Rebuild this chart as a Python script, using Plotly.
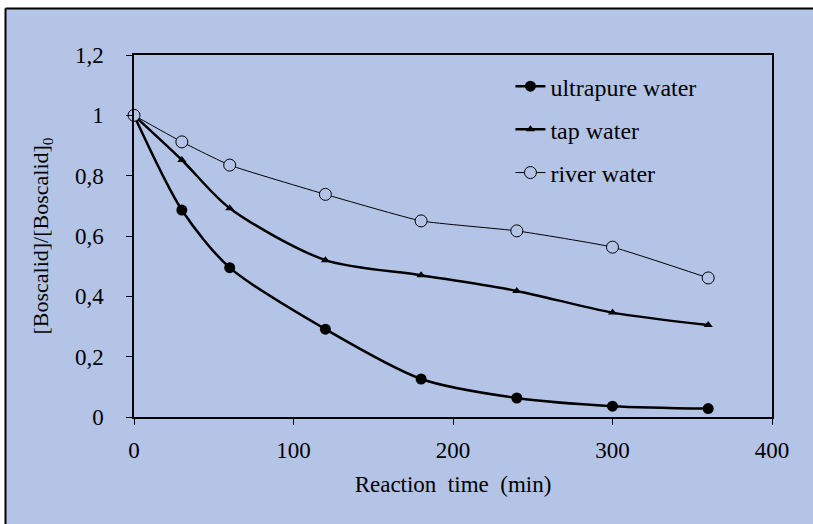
import plotly.graph_objects as go

time_min = [0, 30, 60, 120, 180, 240, 300, 360]
ultrapure = [1.0, 0.686, 0.495, 0.291, 0.126, 0.063, 0.036, 0.028]
tap = [1.0, 0.852, 0.692, 0.520, 0.470, 0.418, 0.346, 0.305]
river = [1.0, 0.912, 0.835, 0.738, 0.650, 0.617, 0.563, 0.461]

BG = "#b4c4e6"
FONT = "Liberation Serif, Times New Roman, serif"
F23 = dict(family=FONT, size=23, color="black")

fig = go.Figure()
fig.add_trace(go.Scatter(
    x=time_min, y=ultrapure, name="ultrapure water", mode="lines+markers",
    line=dict(color="black", width=2.5, shape="spline", smoothing=0.8),
    marker=dict(symbol="circle", size=11, color="black"), legendgroup="a"))
fig.add_trace(go.Scatter(
    x=time_min, y=tap, name="tap water", mode="lines+markers",
    line=dict(color="black", width=2.5, shape="spline", smoothing=0.8),
    marker=dict(symbol="triangle-up", size=8, color="black"), legendgroup="b"))
fig.add_trace(go.Scatter(
    x=time_min, y=river, name="river water", mode="lines+markers",
    line=dict(color="black", width=1, shape="spline", smoothing=0.4),
    marker=dict(symbol="circle", size=12, color=BG, line=dict(color="black", width=1)),
    legendgroup="c"))

# background panel and its left/top border
fig.add_shape(type="rect", xref="paper", yref="paper",
              x0=-0.2014, x1=1.2, y0=-0.4, y1=1.1285,
              line=dict(width=0), fillcolor=BG, layer="below")
fig.add_shape(type="line", xref="paper", yref="paper",
              x0=-0.2014, x1=-0.2014, y0=-0.4, y1=1.1285,
              line=dict(color="black", width=2), layer="below")
fig.add_shape(type="line", xref="paper", yref="paper",
              x0=-0.2014, x1=1.2, y0=1.1285, y1=1.1285,
              line=dict(color="black", width=2), layer="below")

fig.update_layout(
    width=813, height=524,
    margin=dict(l=134, r=41, t=55, b=107),
    paper_bgcolor="white", plot_bgcolor=BG,
    separators=", ",
    font=F23,
    showlegend=True,
    legend=dict(x=0.59, y=0.975, xanchor="left", yanchor="top",
                bgcolor="rgba(0,0,0,0)", font=dict(family=FONT, size=24, color="black"),
                tracegroupgap=9),
)
fig.update_xaxes(range=[0, 400], tickvals=[0, 100, 200, 300, 400],
                 showgrid=False, zeroline=False, showline=True, linecolor="black",
                 linewidth=1.5, mirror=True, ticks="outside", ticklen=6,
                 tickcolor="black", tickwidth=1, tickfont=F23, ticklabelstandoff=6,
                 title=dict(text="Reaction  time  (min)", standoff=14, font=F23))
fig.update_yaxes(range=[0, 1.2], tickvals=[0, 0.2, 0.4, 0.6, 0.8, 1.0, 1.2],
                 tickformat=".1~f",
                 showgrid=False, zeroline=False, showline=True, linecolor="black",
                 linewidth=1.5, mirror=True, ticks="outside", ticklen=6,
                 tickcolor="black", tickwidth=1, tickfont=F23, ticklabelstandoff=18,
                 title=dict(text="[Boscalid]/[Boscalid]<sub>0</sub>", standoff=20,
                            font=dict(family=FONT, size=22, color="black")))
fig.update_traces(cliponaxis=False)

fig.write_html("out.html")
